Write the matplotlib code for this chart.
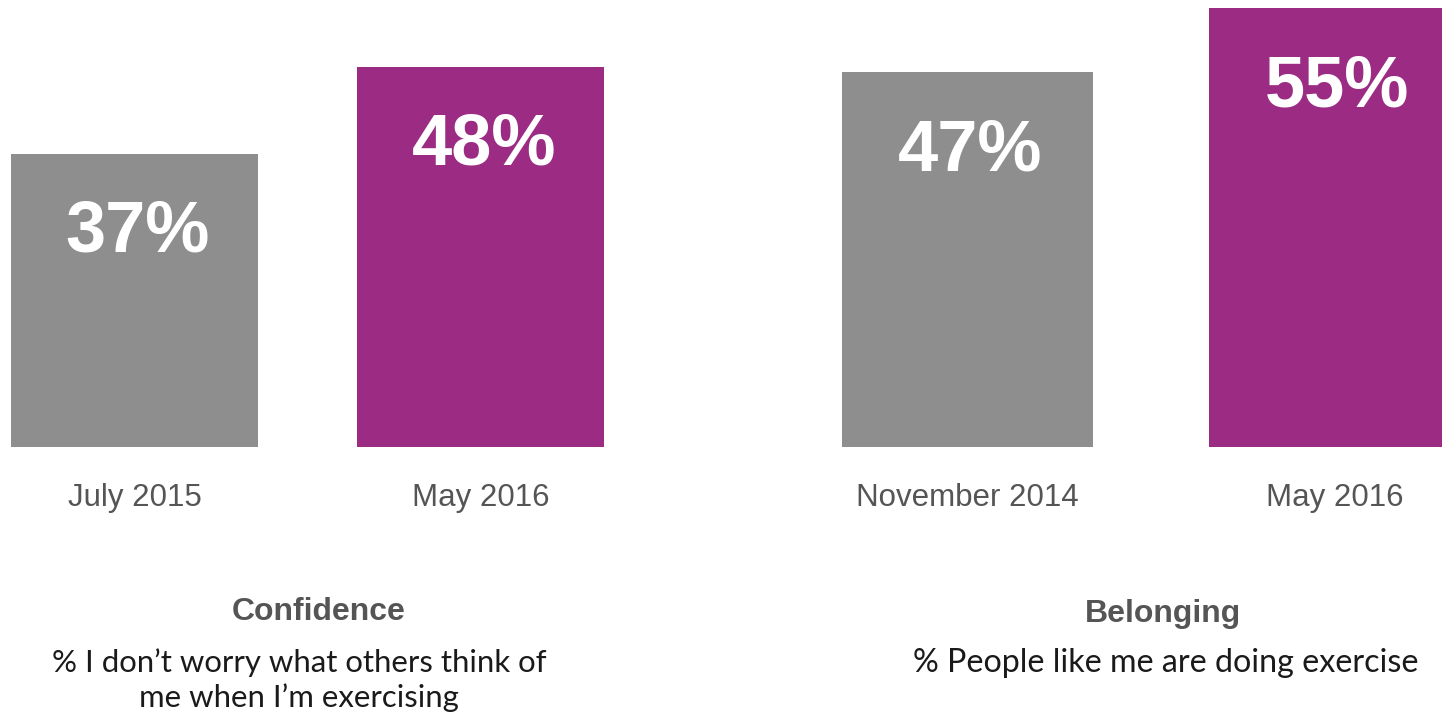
import matplotlib.pyplot as plt

# survey results, two measures each compared across two waves
conf_labels = ["July 2015", "May 2016"]
conf_values = [37, 48]
belong_labels = ["November 2014", "May 2016"]
belong_values = [47, 55]

conf_title = "Confidence"
conf_caption = "% I don\u2019t worry what others think of\nme when I\u2019m exercising"
belong_title = "Belonging"
belong_caption = "% People like me are doing exercise"

GREY = "#8e8e8e"
PURPLE = "#9b2b83"
LABEL_GREY = "#555555"

W, H = 1442, 715
fig = plt.figure(figsize=(W / 100, H / 100), dpi=100)
fig.patch.set_facecolor("white")


def panel(rect, labels, values, xlim, ylim, width):
    ax = fig.add_axes(rect)
    xs = range(len(values))
    bars = ax.bar(xs, values, width=width, color=[GREY, PURPLE], linewidth=0)
    ax.set_xlim(*xlim)
    ax.set_ylim(*ylim)
    ax.set_xticks(list(xs))
    ax.set_xticklabels(labels, fontsize=22.5, color=LABEL_GREY, family="Liberation Sans")
    ax.tick_params(axis="x", length=0, pad=26)
    ax.set_yticks([])
    for s in ax.spines.values():
        s.set_visible(False)
    ax.patch.set_alpha(0)
    for rect_, v in zip(bars, values):
        ax.annotate(f"{v}%", (rect_.get_x() + rect_.get_width() / 2, v),
                    xytext=(2, -57), textcoords="offset points",
                    ha="center", va="center", fontsize=52, fontweight="bold",
                    color="white", family="Liberation Sans")
    return ax


base = 268 / H
panel([0, base, 720 / W, 1 - base], conf_labels, conf_values,
      (-0.388, 1.690), (0, 56.4), 0.713)
panel([720 / W, base, 722 / W, 1 - base], belong_labels, belong_values,
      (-0.674, 1.293), (0, 56.0), 0.684)

fig.text(319 / W, 1 - 612 / H, conf_title, ha="center", va="center",
         fontsize=23, fontweight="bold", color=LABEL_GREY, family="Liberation Sans")
fig.text(1163 / W, 1 - 614 / H, belong_title, ha="center", va="center",
         fontsize=23, fontweight="bold", color=LABEL_GREY, family="Liberation Sans")
fig.text(299 / W, 1 - 680 / H, conf_caption, ha="center", va="center",
         fontsize=22.4, color="#1a1a1a", family="Lato", linespacing=1.25)
fig.text(1166 / W, 1 - 663 / H, belong_caption, ha="center", va="center",
         fontsize=23.2, color="#1a1a1a", family="Lato")

fig.savefig("out.png", dpi=100, facecolor="white")
